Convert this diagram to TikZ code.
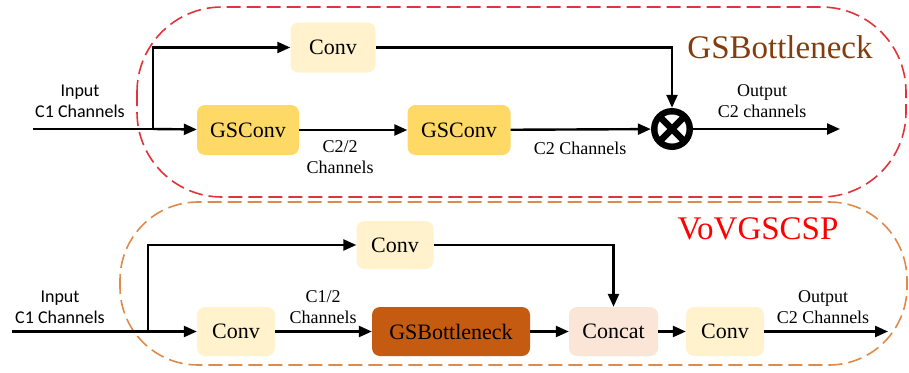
\documentclass[tikz,border=0pt]{standalone}
\usepackage{fontspec}
\setmainfont{Liberation Serif}
\newfontfamily\calibrifont{Carlito}
\usetikzlibrary{arrows.meta,positioning}

\definecolor{convfill}{HTML}{FFF2CC}
\definecolor{gsfill}{HTML}{FFD966}
\definecolor{bneckfill}{HTML}{C55A11}
\definecolor{catfill}{HTML}{FBE5D6}
\definecolor{redline}{HTML}{E0343A}
\definecolor{orangeline}{HTML}{E08A4A}
\definecolor{titlebrown}{HTML}{843C0C}

\tikzset{
	block/.style={rounded corners=8pt, minimum height=50pt, inner sep=0pt, font=\rmfamily\fontsize{22}{24}\selectfont},
	flow/.style={line width=2.4pt, -{Triangle[length=13pt,width=11pt]}},
	wire/.style={line width=2.4pt},
	chlabel/.style={align=center, font=\rmfamily\fontsize{18}{21}\selectfont},
	inlabel/.style={align=center, font=\calibrifont\fontsize{18}{21}\selectfont},
	frame/.style={dash pattern=on 14pt off 6pt, line width=1.6pt},
}

\begin{document}
\begin{tikzpicture}[x=1pt,y=-1pt]
		\useasboundingbox (0,0) rectangle (909,372);
		\draw[frame, redline, rounded corners=85pt] (137,7) rectangle (906,197);
		\draw[frame, orangeline, rounded corners=78pt] (120,202) rectangle (907,365);

		\node[block, fill=convfill, minimum width=85pt] (gsbconv) at (333,47.5) {Conv};
		\node[block, fill=gsfill, minimum width=102pt] (gsconva) at (248,130) {GSConv};
		\node[block, fill=gsfill, minimum width=103pt] (gsconvb) at (459,130) {GSConv};
		\node[circle, fill=black, minimum size=42pt, inner sep=0pt] (mul) at (672,129) {};
		\fill[white] (mul.center) circle (14.5pt);
		\draw[line width=6.5pt] (mul.center) +(-11,-11) -- +(11,11);
		\draw[line width=6.5pt] (mul.center) +(-11,11) -- +(11,-11);
		\coordinate (gsbin) at (33,129);
		\coordinate (gsbsplit) at (153,129);
		\coordinate (gsbout) at (840,129);

		\draw[wire] (gsbin) -- (gsbsplit);
		\draw[flow] (gsbsplit) -- (gsconva);
		\draw[flow] (gsbsplit) |- (gsbconv);
		\draw[flow] (gsconva) -- (gsconvb);
		\draw[flow] (gsconvb) -- (mul);
		\draw[flow] (gsbconv) -| (mul);
		\draw[flow] (mul) -- (gsbout);

		\node[inlabel] (gsbinlabel) at (80,101) {Input\\C1 Channels};
		\node[chlabel] (halflabel) at (340,157) {C2/2\\Channels};
		\node[chlabel] (fulllabel) at (580,148) {C2 Channels};
		\node[chlabel] (gsboutlabel) at (762,101) {Output\\C2 channels};
		\node[text=titlebrown, font=\rmfamily\fontsize{33}{36}\selectfont] (gsbtitle) at (780,47) {GSBottleneck};

		\node[block, fill=convfill, minimum width=77pt, minimum height=48pt] (vovconvtop) at (395,245) {Conv};
		\node[block, fill=convfill, minimum width=78pt, minimum height=49pt] (vovconva) at (236,331.5) {Conv};
		\node[block, fill=bneckfill, minimum width=158pt, minimum height=49pt] (bneck) at (451,331.5) {GSBottleneck};
		\node[block, fill=catfill, minimum width=89pt, minimum height=49pt] (concat) at (613.5,331.5) {Concat};
		\node[block, fill=convfill, minimum width=78pt, minimum height=49pt] (vovconvb) at (725,331.5) {Conv};
		\coordinate (vovin) at (12,331.5);
		\coordinate (vovsplit) at (148,331.5);
		\coordinate (vovout) at (888,331.5);

		\draw[wire] (vovin) -- (vovsplit);
		\draw[flow] (vovsplit) -- (vovconva);
		\draw[flow] (vovsplit) |- (vovconvtop);
		\draw[flow] (vovconva) -- (bneck);
		\draw[flow] (bneck) -- (concat);
		\draw[flow] (vovconvtop) -| (concat);
		\draw[flow] (concat) -- (vovconvb);
		\draw[flow] (vovconvb) -- (vovout);

		\node[inlabel] (vovinlabel) at (60,307) {Input\\C1 Channels};
		\node[chlabel] (c1halflabel) at (323,307) {C1/2\\Channels};
		\node[chlabel] (vovoutlabel) at (823,307) {Output\\C2 Channels};
		\node[text=red, font=\rmfamily\fontsize{33}{36}\selectfont] (vovtitle) at (758,229) {VoVGSCSP};
\end{tikzpicture}
\end{document}
